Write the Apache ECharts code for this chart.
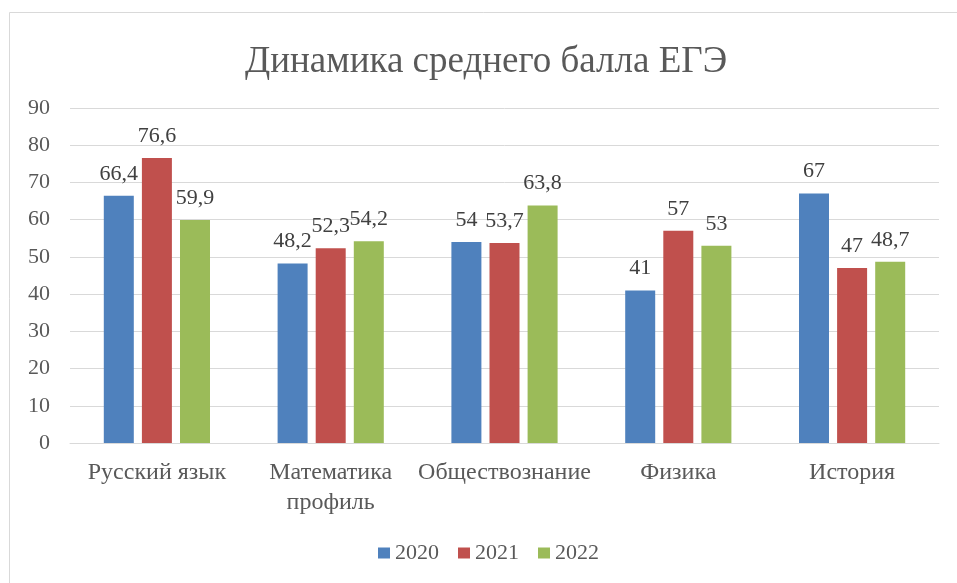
<!DOCTYPE html>
<html>
<head>
<meta charset="utf-8">
<script src="https://cdn.jsdelivr.net/npm/echarts@6/dist/echarts.min.js"></script>
<style>
    html, body { margin: 0; padding: 0; background: #fff; }
    #chart { width: 957px; height: 583px; }
</style>
</head>
<body>
<div id="chart"></div>
<script>
var subjects = ['Русский язык', 'Математика\nпрофиль', 'Обществознание', 'Физика', 'История'];
var years = ['2020', '2021', '2022'];
var score2020 = [66.4, 48.2, 54, 41, 67];
var score2021 = [76.6, 52.3, 53.7, 57, 47];
var score2022 = [59.9, 54.2, 63.8, 53, 48.7];
var colors = ['#4F81BD', '#C0504D', '#9BBB59'];
var yTicks = [0, 90, 10]; // min, max, step

var font = 'Liberation Serif, Times New Roman, serif';
var textColor = '#595959';

function makeSeries(name, values, color) {
    return {
        name: name,
        type: 'bar',
        data: values,
        barWidth: 30,
        barGap: '27%',
        itemStyle: { color: color },
        label: {
            show: true,
            position: 'top',
            distance: 11,
            fontFamily: font,
            fontSize: 22,
            color: '#404040',
            formatter: function (p) { return String(p.value).replace('.', ','); }
        }
    };
}

var chart = echarts.init(document.getElementById('chart'));
var option = {
    backgroundColor: '#fff',
    animation: false,
    graphic: [{
        type: 'rect',
        shape: { x: 9.5, y: 12.5, width: 1000, height: 1000 },
        style: { fill: 'none', stroke: '#d9d9d9', lineWidth: 1 },
        silent: true
    }],
    title: {
        text: 'Динамика среднего балла ЕГЭ',
        left: 240,
        top: 39,
        textStyle: { fontFamily: font, fontSize: 37, fontWeight: 'normal', color: textColor }
    },
    legend: {
        data: years,
        left: 373,
        top: 537,
        itemWidth: 12,
        itemHeight: 11,
        itemGap: 19,
        icon: 'rect',
        textStyle: { fontFamily: font, fontSize: 22, color: textColor, padding: [0, 0, 0, 0] }
    },
    grid: { left: 70, right: 18, top: 108, bottom: 140, containLabel: false },
    xAxis: {
        type: 'category',
        data: subjects,
        axisTick: { show: false },
        axisLine: { lineStyle: { color: '#d9d9d9' } },
        axisLabel: { fontFamily: font, fontSize: 24, color: textColor, margin: 15, lineHeight: 30, interval: 0 }
    },
    yAxis: {
        type: 'value',
        min: yTicks[0],
        max: yTicks[1],
        interval: yTicks[2],
        axisLine: { show: false },
        axisTick: { show: false },
        splitLine: { lineStyle: { color: '#d9d9d9' } },
        axisLabel: { fontFamily: font, fontSize: 22, color: textColor, margin: 20 }
    },
    series: [
        makeSeries(years[0], score2020, colors[0]),
        makeSeries(years[1], score2021, colors[1]),
        makeSeries(years[2], score2022, colors[2])
    ]
};
chart.setOption(option);
</script>
</body>
</html>
